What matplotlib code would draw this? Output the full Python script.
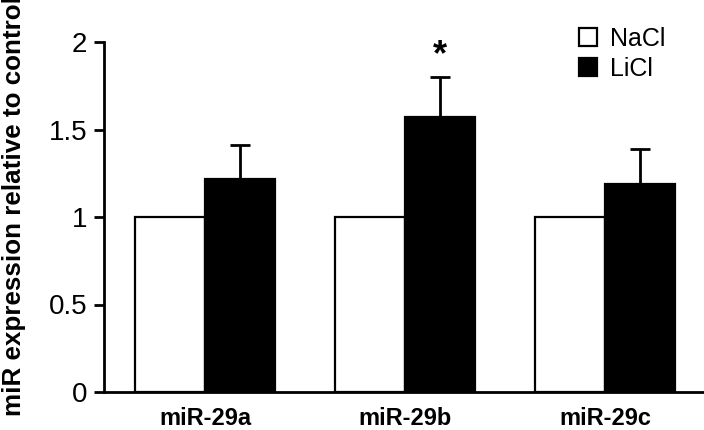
import numpy as np
import matplotlib.pyplot as plt

plt.rcParams['font.family'] = ['Liberation Sans', 'DejaVu Sans']

groups = ["miR-29a", "miR-29b", "miR-29c"]
nacl = [1.0, 1.0, 1.0]
licl = [1.22, 1.57, 1.19]
licl_err = [0.19, 0.23, 0.20]

x = np.arange(len(groups))
w = 0.35

fig = plt.figure(figsize=(7.04, 4.30), dpi=100)
ax = fig.add_axes([104 / 704, 1 - 392 / 430, 1 - 104 / 704, 350 / 430])

ax.bar(x - w / 2, nacl, w, color="white", edgecolor="black", linewidth=1.6, label="NaCl")
ax.bar(x + w / 2, licl, w, color="black", edgecolor="black", linewidth=1.6, label="LiCl")
ax.errorbar(x + w / 2, licl, yerr=[np.zeros(3), licl_err], fmt="none",
            ecolor="black", elinewidth=2, capsize=7, capthick=2)

# significance mark
ax.text(x[1] + w / 2, licl[1] + licl_err[1] + 0.02, "*", ha="center", va="bottom",
        fontsize=26, fontweight="bold")

ax.set_xlim(-0.505, 2.495)
ax.set_ylim(0, 2)
ax.set_yticks([0, 0.5, 1, 1.5, 2])
ax.set_yticklabels(["0", "0.5", "1", "1.5", "2"], fontsize=20)
ax.set_xticks(x)
ax.set_xticklabels(groups, fontsize=17, fontweight="bold")
ax.tick_params(axis="x", length=0, pad=11)
ax.tick_params(axis="y", length=7, width=2, pad=5)

for s in ["top", "right"]:
    ax.spines[s].set_visible(False)
ax.spines["left"].set_linewidth(2)
ax.spines["bottom"].set_linewidth(2)
ax.spines["bottom"].set_clip_on(False)

fig.text(14 / 704, 1 - 206 / 430, "miR expression relative to control", rotation=90,
         ha="center", va="center", fontsize=18.7, fontweight="bold")

ax.legend(loc="upper left", bbox_to_anchor=(566 / 704, 1 - 14 / 430),
          bbox_transform=fig.transFigure, frameon=False, fontsize=18,
          handlelength=0.72, handleheight=0.72, handletextpad=0.55,
          labelspacing=0.25, borderpad=0)

fig.savefig("out.png", dpi=100)
